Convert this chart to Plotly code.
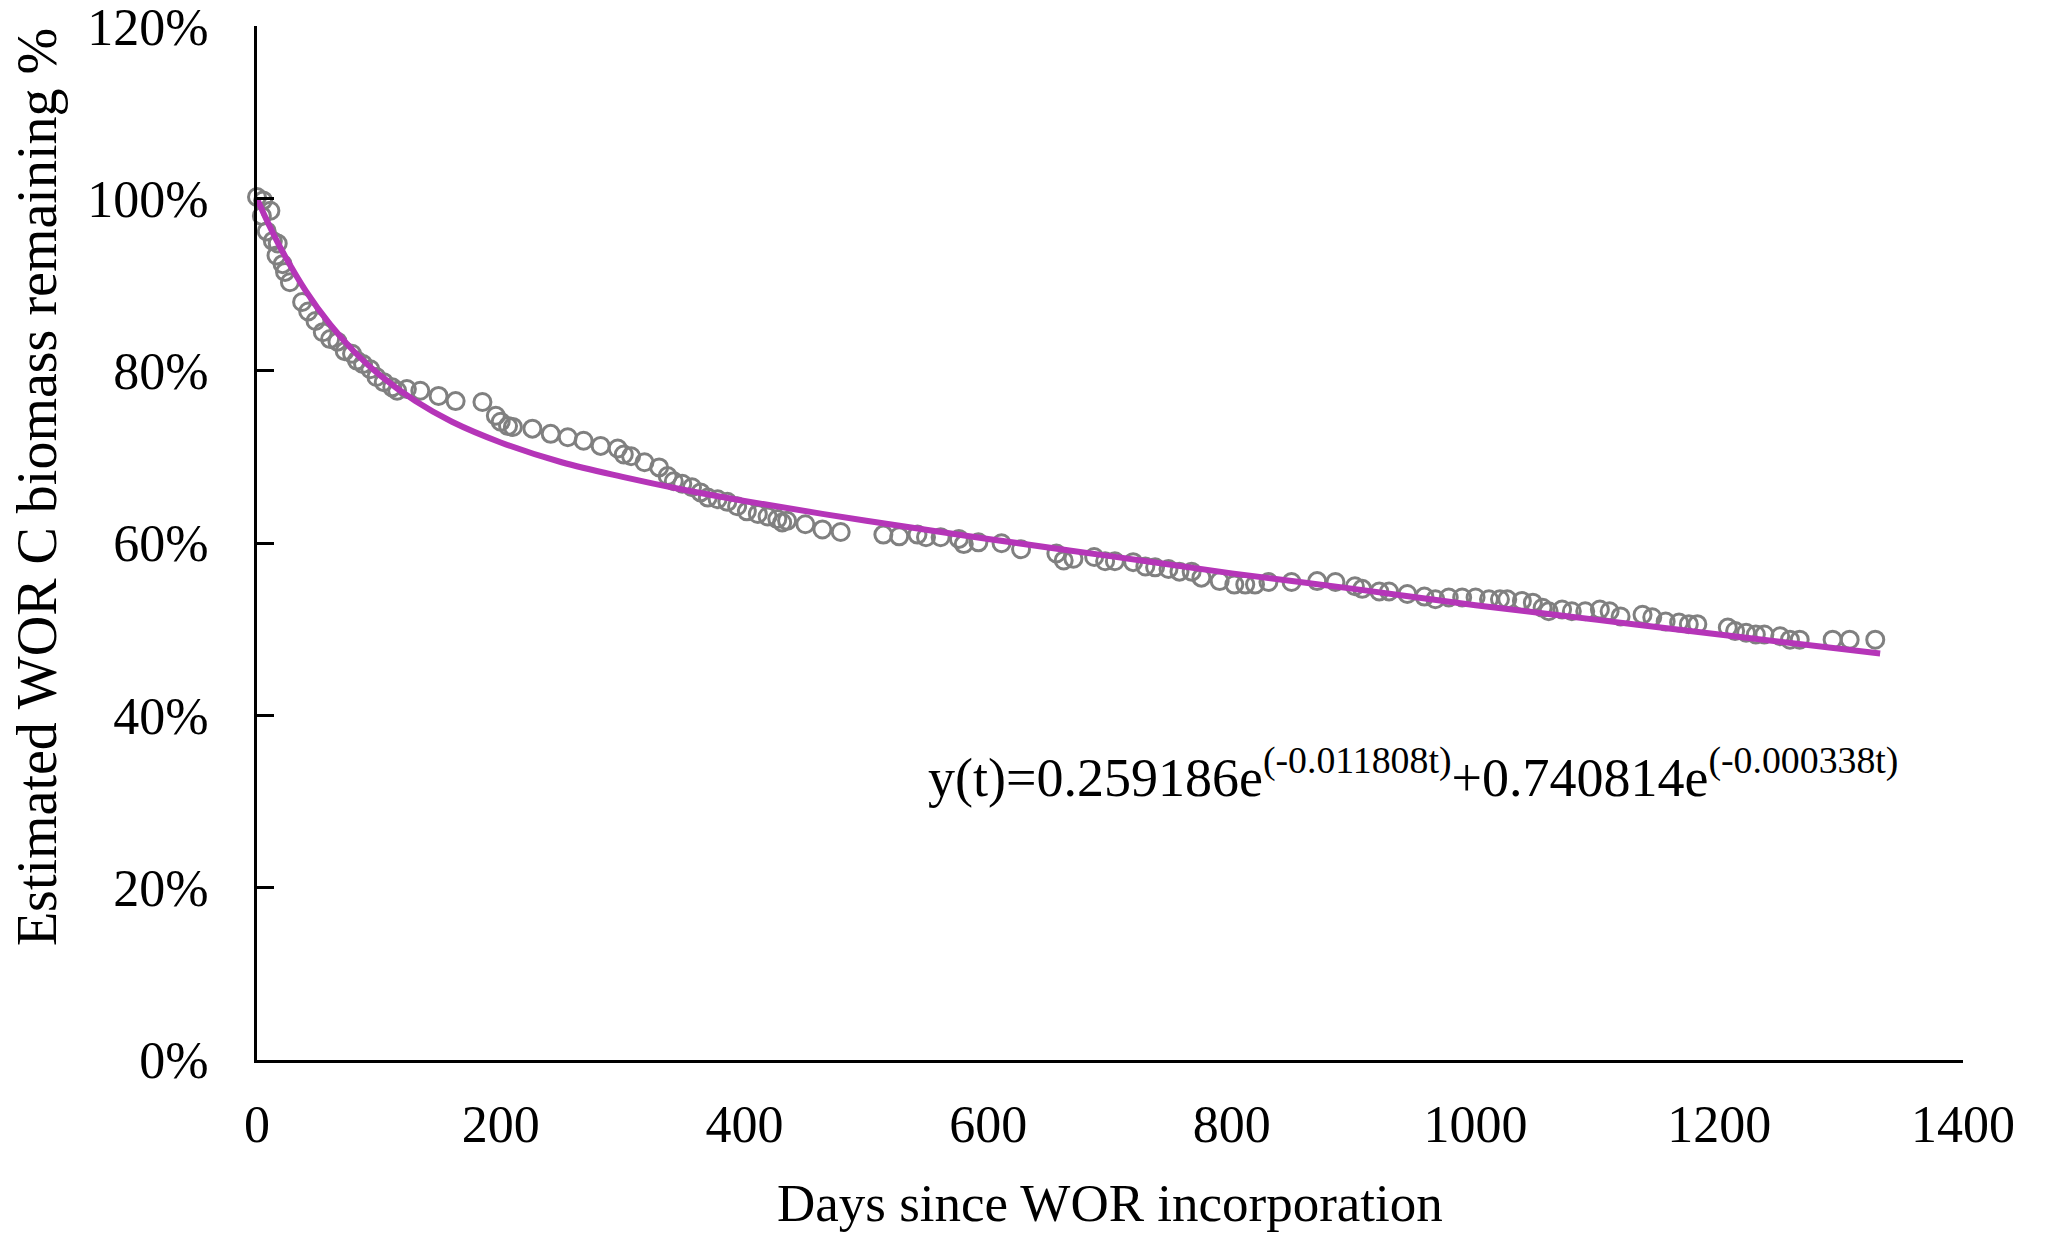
import plotly.graph_objects as go

days = [0, 4, 5, 8, 11, 13, 16, 17, 21, 23, 27, 37, 42, 48, 54, 60, 66, 72, 78, 82,
        87, 93, 98, 104, 111, 115, 123, 134, 149, 163, 185, 196, 200, 206, 210, 226,
        241, 255, 268, 282, 296, 301, 307, 318, 330, 337, 342, 349, 357, 364, 370,
        378, 386, 394, 402, 411, 419, 427, 431, 435, 450, 464, 479, 514, 527, 542,
        549, 561, 576, 580, 592, 611, 627, 656, 662, 670, 687, 696, 704, 719, 729,
        737, 748, 757, 767, 775, 790, 802, 811, 819, 830, 849, 870, 885, 901, 907,
        921, 929, 944, 958, 967, 978, 989, 1000, 1011, 1020, 1026, 1038, 1047, 1055,
        1060, 1071, 1079, 1090, 1102, 1110, 1119, 1137, 1145, 1156, 1167, 1175, 1182,
        1207, 1213, 1222, 1230, 1237, 1250, 1258, 1266, 1293, 1307, 1328]
remaining = [100.2, 98.0, 99.8, 96.2, 98.6, 95.1, 93.4, 94.8, 92.4, 91.5, 90.3, 88.0,
             86.9, 85.8, 84.5, 83.7, 83.4, 82.3, 82.0, 81.2, 80.8, 80.2, 79.3, 78.7,
             78.1, 77.7, 77.9, 77.7, 77.1, 76.5, 76.4, 74.8, 74.1, 73.6, 73.5, 73.3,
             72.7, 72.3, 71.9, 71.3, 71.0, 70.3, 70.1, 69.4, 68.8, 67.8, 67.2, 66.9,
             66.5, 65.9, 65.3, 65.1, 64.8, 64.3, 63.7, 63.4, 63.1, 62.8, 62.4, 62.6,
             62.2, 61.6, 61.3, 61.0, 60.8, 61.0, 60.7, 60.7, 60.5, 59.9, 60.1, 60.0,
             59.3, 58.8, 58.0, 58.2, 58.4, 57.9, 57.9, 57.8, 57.3, 57.2, 57.0, 56.7,
             56.7, 56.0, 55.6, 55.2, 55.2, 55.2, 55.5, 55.5, 55.6, 55.5, 55.0, 54.7,
             54.4, 54.4, 54.1, 53.8, 53.5, 53.7, 53.7, 53.7, 53.5, 53.5, 53.5, 53.3,
             53.1, 52.5, 52.1, 52.3, 52.1, 52.1, 52.3, 52.1, 51.5, 51.7, 51.4, 50.9,
             50.8, 50.6, 50.6, 50.2, 49.8, 49.6, 49.4, 49.4, 49.2, 48.8, 48.8, 48.8,
             48.8, 48.8]

# fitted curve as drawn
fit_days = [0, 10, 20, 40, 60, 80, 100, 130, 160, 200, 250, 300, 350, 400, 500, 600,
            700, 800, 900, 1000, 1100, 1200, 1332]
fit_values = [100.0, 96.9, 94.1, 89.3, 85.4, 82.2, 79.6, 76.5, 74.1, 71.7, 69.4, 67.7,
              66.2, 64.9, 62.6, 60.5, 58.5, 56.5, 54.7, 52.8, 51.1, 49.4, 47.2]

y_ticks = [0, 20, 40, 60, 80, 100, 120]
y_labels = ['0%', '20%', '40%', '60%', '80%', '100%', '120%']
x_ticks = [0, 200, 400, 600, 800, 1000, 1200, 1400]

FONT = 'Liberation Serif'

fig = go.Figure()
fig.add_trace(go.Scatter(
    x=days, y=remaining, mode='markers',
    marker=dict(symbol='circle-open', size=17, color='#808080', line=dict(width=3, color='#808080')),
    cliponaxis=False, showlegend=False,
))
fig.add_trace(go.Scatter(
    x=fit_days, y=fit_values, mode='lines',
    line=dict(color='#B535B8', width=6, shape='spline'),
    showlegend=False,
))

fig.add_annotation(
    x=549, y=33.3, xref='x', yref='y', xanchor='left', yanchor='middle',
    text='y(t)=0.259186e<sup>(-0.011808t)</sup>+0.740814e<sup>(-0.000338t)</sup>',
    showarrow=False, font=dict(family=FONT, size=54, color='black'),
)
# axis titles placed by hand
fig.add_annotation(
    x=0.5, y=-0.138, xref='paper', yref='paper', xanchor='center', yanchor='middle',
    text='Days since WOR incorporation', showarrow=False,
    font=dict(family=FONT, size=53, color='black'),
)
fig.add_annotation(
    x=-0.129, y=0.554, xref='paper', yref='paper', xanchor='center', yanchor='middle',
    text='Estimated WOR C biomass remaining %', showarrow=False, textangle=-90,
    font=dict(family=FONT, size=56, color='black'),
)

# the page body adds 8px, so margins are set 8px less on top/left
fig.update_layout(
    width=2049, height=1236, autosize=False,
    margin=dict(l=249, r=94, t=18, b=184),
    plot_bgcolor='white', paper_bgcolor='white',
    font=dict(family=FONT, size=52, color='black'),
    xaxis=dict(range=[0, 1400], tickmode='array', tickvals=x_ticks, ticks='', showgrid=False,
               zeroline=False, showline=True, linecolor='black', linewidth=3,
               ticklabelstandoff=17, automargin=False, ticklabeloverflow='allow'),
    yaxis=dict(range=[0, 120.05], tickmode='array', tickvals=y_ticks, ticktext=y_labels,
               ticks='inside', ticklen=17, tickwidth=3, tickcolor='black', showgrid=False,
               zeroline=False, showline=True, linecolor='black', linewidth=3,
               ticklabelstandoff=35, automargin=False, ticklabeloverflow='allow'),
)

fig.write_html('out.html')
